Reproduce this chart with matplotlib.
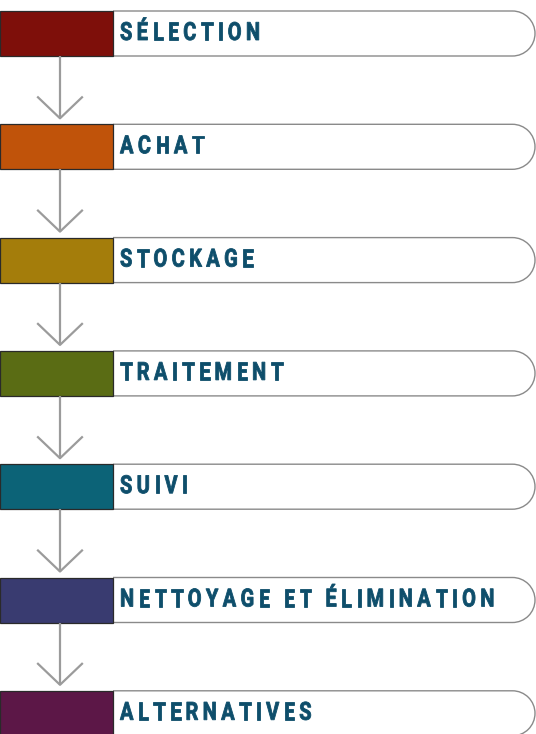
import matplotlib
matplotlib.use("Agg")
import matplotlib.pyplot as plt
from matplotlib.patches import Rectangle, PathPatch
from matplotlib.path import Path
from matplotlib.textpath import TextPath, text_to_path
from matplotlib.font_manager import FontProperties
from matplotlib.transforms import Affine2D

# Flowchart steps
stages = ["SÉLECTION", "ACHAT", "STOCKAGE", "TRAITEMENT", "SUIVI",
          "NETTOYAGE ET ÉLIMINATION", "ALTERNATIVES"]
colors = ["#7e0f0a", "#c0530a", "#a47d0b", "#5a6c14", "#0c6377",
          "#393b70", "#5c1747"]

W, H = 536, 734
top0, step, bh = 11, 113.3, 45
box_w = 113
radius = bh / 2
text_color = "#0e4e6b"
prop = FontProperties(family="Roboto", weight="bold")
fsize = 25
sx = 0.8       # horizontal squeeze to mimic condensed type
track = 4.4    # letter spacing


def draw_text(ax, s, x, y):
    for ch in s:
        w, h, d = text_to_path.get_text_width_height_descent(ch, prop, ismath=False)
        adv = w * fsize / prop.get_size_in_points() * sx
        if ch.strip():
            tp = TextPath((0, 0), ch, size=fsize, prop=prop)
            tr = Affine2D().scale(sx, -1).translate(x, y)
            ax.add_patch(PathPatch(tr.transform_path(tp), fc=text_color,
                                   ec=text_color, lw=0.6))
        x += adv + track


fig = plt.figure(figsize=(W / 100, H / 100), dpi=100)
ax = fig.add_axes([0, 0, 1, 1])
ax.set_xlim(0, W)
ax.set_ylim(H, 0)
ax.axis("off")

for i, (name, col) in enumerate(zip(stages, colors)):
    top = top0 + i * step
    bot = top + bh
    # rounded outline
    cx = W - 1 - radius
    verts = [(box_w, top), (cx, top)]
    codes = [Path.MOVETO, Path.LINETO]
    arc = Path.arc(-90, 90)
    for v in arc.vertices[1:]:
        verts.append((cx + radius * v[0], top + radius + radius * v[1]))
    codes += list(arc.codes[1:])
    verts.append((box_w, bot))
    codes.append(Path.LINETO)
    ax.add_patch(PathPatch(Path(verts, codes), fc="white", ec="#8a8a8a", lw=1.0))
    ax.add_patch(Rectangle((0, top), box_w, bh, fc=col, ec="#2a2a2a", lw=0.9))
    draw_text(ax, name, 120, top + 29)

    # arrow to next step
    if i < len(stages) - 1:
        tip = top + step - 6
        ax.plot([60, 60], [bot, tip], color="#9b9b9b", lw=1.6, solid_capstyle="butt")
        ax.plot([38, 60, 82], [tip - 21, tip, tip - 21], color="#9b9b9b", lw=1.6)

fig.savefig("out.png", dpi=100)
